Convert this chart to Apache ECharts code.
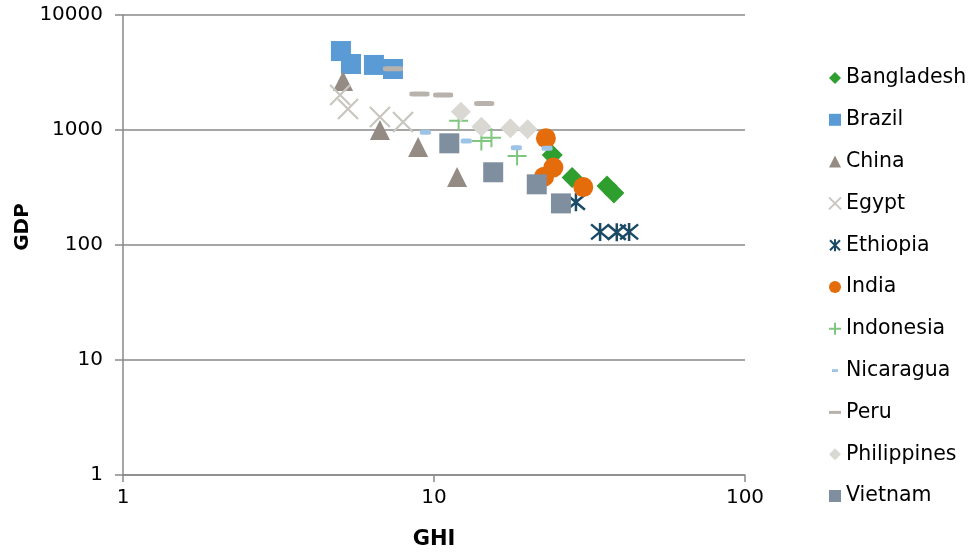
<!DOCTYPE html>
<html>
<head>
<meta charset="utf-8">
<script src="https://cdn.jsdelivr.net/npm/echarts@6/dist/echarts.min.js"></script>
<style>
  html, body { margin: 0; padding: 0; background: #fff; }
  #chart { width: 970px; height: 553px; }
</style>
</head>
<body>
<div id="chart"></div>
<script>
// [GHI, GDP] pairs per country
const bangladesh  = [[24.0, 606], [27.8, 386], [36.0, 326], [37.9, 283]];
const brazil      = [[5.02, 4860], [5.41, 3750], [6.41, 3680], [7.38, 3390]];
const china       = [[5.10, 2670], [6.70, 1000], [8.89, 711], [11.86, 390]];
const egypt       = [[4.99, 2015], [5.29, 1523], [6.70, 1297], [7.95, 1174]];
const ethiopia    = [[28.6, 235], [34.2, 130], [38.7, 129], [42.4, 130]];
const india       = [[22.9, 847], [24.2, 472], [22.6, 393], [30.2, 319]];
const indonesia   = [[12.0, 1205], [14.2, 802], [15.3, 857], [18.5, 594]];
const nicaragua   = [[9.38, 955], [12.7, 802], [18.4, 702], [23.1, 693]];
const peru        = [[7.38, 3410], [8.98, 2056], [10.7, 2015], [14.5, 1700]];
const philippines = [[12.2, 1443], [14.2, 1069], [17.6, 1035], [20.0, 1014]];
const vietnam     = [[11.2, 766], [15.5, 429], [21.4, 337], [25.6, 230]];

const xTicks = [1, 10, 100];
const yTicks = [1, 10, 100, 1000, 10000];

const FONT = 'DejaVu Sans';
const AXIS_COLOR = '#898989';

// marker shapes
const X_PATH = 'path://M0,0L10,10M10,0L0,10';
const STAR_PATH = 'path://M0,0L10,10M10,0L0,10M5,-1L5,11';
const PLUS_PATH = 'path://M0,5L10,5M5,0L5,10';
const SMALL_DASH_ICON = 'path://M0,0M12,12M3,4.6H9V7.4H3Z';
const DASH_ICON = 'path://M0,0M12,12M0,4.5H12V7.5H0Z';

function filled(name, data, symbol, size, color) {
  return {
    name, type: 'scatter', data, symbol, symbolSize: size,
    itemStyle: { color, opacity: 1 }
  };
}
function stroked(name, data, symbol, size, color, width) {
  return {
    name, type: 'scatter', data, symbol, symbolSize: size,
    itemStyle: { color: 'rgba(0,0,0,0)', borderColor: color, borderWidth: width, opacity: 1 }
  };
}

const series = [
  filled('Bangladesh', bangladesh, 'diamond', 21, '#2E9E2E'),
  filled('Brazil', brazil, 'rect', 20, '#5B9BD5'),
  filled('China', china, 'triangle', 20, '#938B84'),
  stroked('Egypt', egypt, X_PATH, 20, '#C8C6BF', 2.2),
  stroked('Ethiopia', ethiopia, STAR_PATH, 18, '#1A4A66', 2.5),
  filled('India', india, 'circle', 20, '#E46C0A'),
  stroked('Indonesia', indonesia, PLUS_PATH, 19, '#7FC67F', 2),
  filled('Nicaragua', nicaragua, 'roundRect', [11, 5], '#9DC3E6'),
  filled('Peru', peru, 'roundRect', [20, 5], '#B8B2AD'),
  filled('Philippines', philippines, 'diamond', 20, '#D9D8D3'),
  filled('Vietnam', vietnam, 'rect', 20, '#7F8FA0')
];

const legendIcons = {
  Bangladesh: 'diamond', Brazil: 'rect', China: 'triangle', Egypt: X_PATH,
  Ethiopia: STAR_PATH, India: 'circle', Indonesia: PLUS_PATH,
  Nicaragua: SMALL_DASH_ICON, Peru: DASH_ICON, Philippines: 'diamond', Vietnam: 'rect'
};

const chart = echarts.init(document.getElementById('chart'), null, { renderer: 'canvas' });
chart.setOption({
  animation: false,
  backgroundColor: '#fff',
  textStyle: { fontFamily: FONT },
  grid: { left: 123, right: 225, top: 15, bottom: 78, containLabel: false, outerBoundsMode: 'none' },
  xAxis: {
    type: 'log', logBase: 10, min: xTicks[0], max: xTicks[xTicks.length - 1],
    name: 'GHI', nameLocation: 'middle', nameGap: 54,
    nameTextStyle: { fontFamily: FONT, fontWeight: 'bold', fontSize: 21, color: '#000' },
    axisLine: { show: true, lineStyle: { color: AXIS_COLOR, width: 1.5 } },
    axisTick: { show: true, length: 7, lineStyle: { color: AXIS_COLOR, width: 1.5 } },
    axisLabel: { fontFamily: FONT, fontSize: 20, color: '#000', margin: 13, formatter: v => String(v) },
    splitLine: { show: false }
  },
  yAxis: {
    type: 'log', logBase: 10, min: yTicks[0], max: yTicks[yTicks.length - 1],
    axisLine: { show: true, lineStyle: { color: AXIS_COLOR, width: 1.5 } },
    axisTick: { show: true, length: 8, lineStyle: { color: AXIS_COLOR, width: 1.5 } },
    axisLabel: { fontFamily: FONT, fontSize: 20, color: '#000', margin: 20, formatter: v => String(v) },
    splitLine: { show: true, lineStyle: { color: AXIS_COLOR, width: 1.5 } }
  },
  legend: {
    orient: 'vertical', left: 823, top: 62,
    itemWidth: 12, itemHeight: 12, itemGap: 19.8, itemTextGap: 8,
    textStyle: { fontFamily: FONT, fontSize: 20.5, color: '#000', lineHeight: 22 },
    data: series.map(s => ({ name: s.name, icon: legendIcons[s.name] }))
  },
  graphic: [{
    type: 'text',
    x: 23, y: 227,
    rotation: Math.PI / 2,
    style: { text: 'GDP', font: 'bold 20px "DejaVu Sans"', fill: '#000', align: 'center', verticalAlign: 'middle' }
  }],
  series
});
</script>
</body>
</html>
